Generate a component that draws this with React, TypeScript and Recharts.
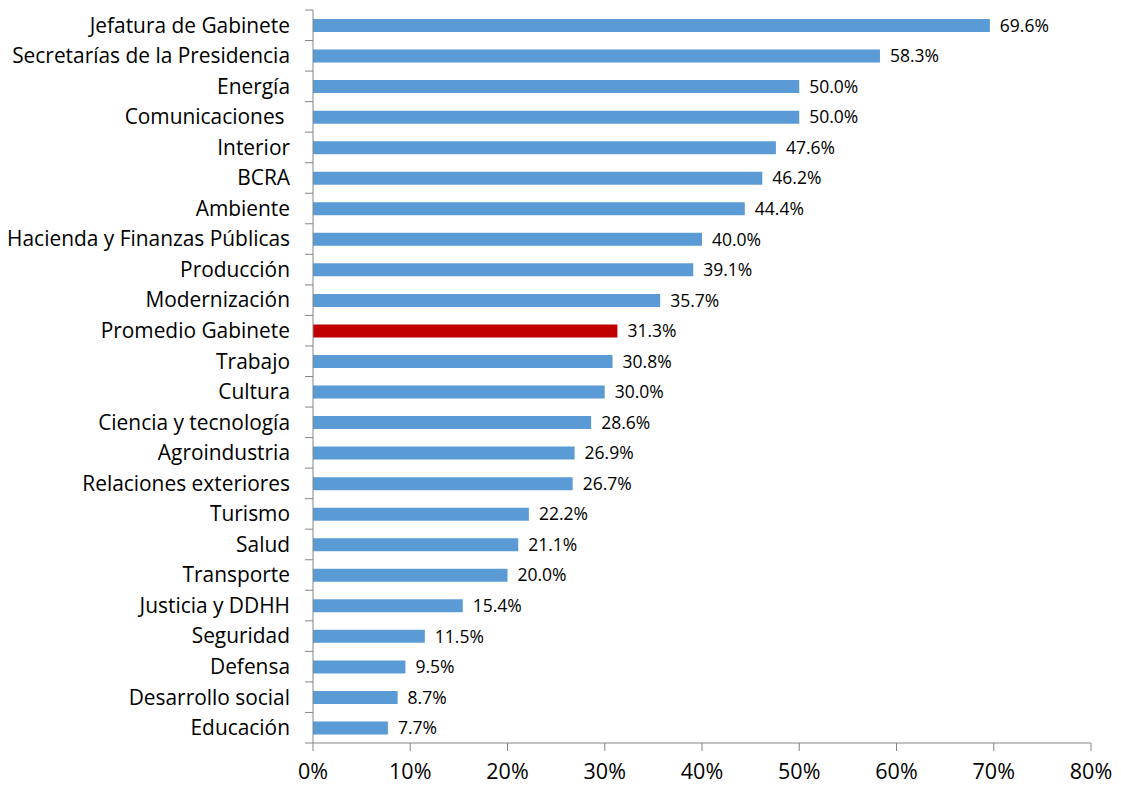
import { BarChart, Bar, XAxis, YAxis, Cell, LabelList } from "recharts";

const categories = [
  "Jefatura de Gabinete",
  "Secretarías de la Presidencia",
  "Energía",
  "Comunicaciones ",
  "Interior",
  "BCRA",
  "Ambiente",
  "Hacienda y Finanzas Públicas",
  "Producción",
  "Modernización",
  "Promedio Gabinete",
  "Trabajo",
  "Cultura",
  "Ciencia y tecnología",
  "Agroindustria",
  "Relaciones exteriores",
  "Turismo",
  "Salud",
  "Transporte",
  "Justicia y DDHH",
  "Seguridad",
  "Defensa",
  "Desarrollo social",
  "Educación",
];

const values = [
  69.6, 58.3, 50.0, 50.0, 47.6, 46.2, 44.4, 40.0, 39.1, 35.7, 31.3, 30.8, 30.0,
  28.6, 26.9, 26.7, 22.2, 21.1, 20.0, 15.4, 11.5, 9.5, 8.7, 7.7,
];

const xTicks = [0, 10, 20, 30, 40, 50, 60, 70, 80];

const highlight = "Promedio Gabinete";

const data = categories.map((name, i) => ({ name, value: values[i] }));

const FONT = "'Open Sans', sans-serif";
const AXIS = "#868686";

function CategoryTick(props: any) {
  const { x, y, payload, index, visibleTicksCount } = props;
  const half = 733 / categories.length / 2;
  const axisX = x + 23;
  return (
    <g>
      <line x1={axisX - 8} x2={axisX} y1={y - half} y2={y - half} stroke={AXIS} />
      {index === visibleTicksCount - 1 && (
        <line x1={axisX - 8} x2={axisX} y1={y + half} y2={y + half} stroke={AXIS} />
      )}
      <text
        x={x}
        y={y}
        dy="0.35em"
        textAnchor="end"
        fill="#000"
        fontSize={20.9}
        fontFamily={FONT}
        style={{ whiteSpace: "pre" }}
      >
        {payload.value}
      </text>
    </g>
  );
}

export default function App() {
  return (
    <div style={{ position: "absolute", left: 0, top: 0, background: "#fff" }}>
      <BarChart
        width={1121}
        height={785}
        data={data}
        layout="vertical"
        margin={{ top: 10, right: 30, bottom: 0, left: 0 }}
        barCategoryGap="20%"
      >
        <XAxis
          type="number"
          domain={[0, 80]}
          ticks={xTicks}
          interval={0}
          height={42}
          stroke={AXIS}
          tickSize={8}
          tickMargin={13}
          tickFormatter={(v: number) => `${v}%`}
          tick={{ fill: "#000", fontSize: 21.5, fontFamily: FONT }}
        />
        <YAxis
          type="category"
          dataKey="name"
          width={313}
          interval={0}
          stroke={AXIS}
          tickLine={false}
          tickSize={8}
          tickMargin={15}
          tick={<CategoryTick />}
        />
        <Bar dataKey="value" barSize={13} isAnimationActive={false}>
          {data.map((d) => (
            <Cell key={d.name} fill={d.name === highlight ? "#C00000" : "#5B9BD5"} />
          ))}
          <LabelList
            dataKey="value"
            position="right"
            offset={10}
            fill="#000"
            fontSize={17.5}
            fontFamily={FONT}
            formatter={(v: any) => `${Number(v).toFixed(1)}%`}
          />
        </Bar>
      </BarChart>
    </div>
  );
}
